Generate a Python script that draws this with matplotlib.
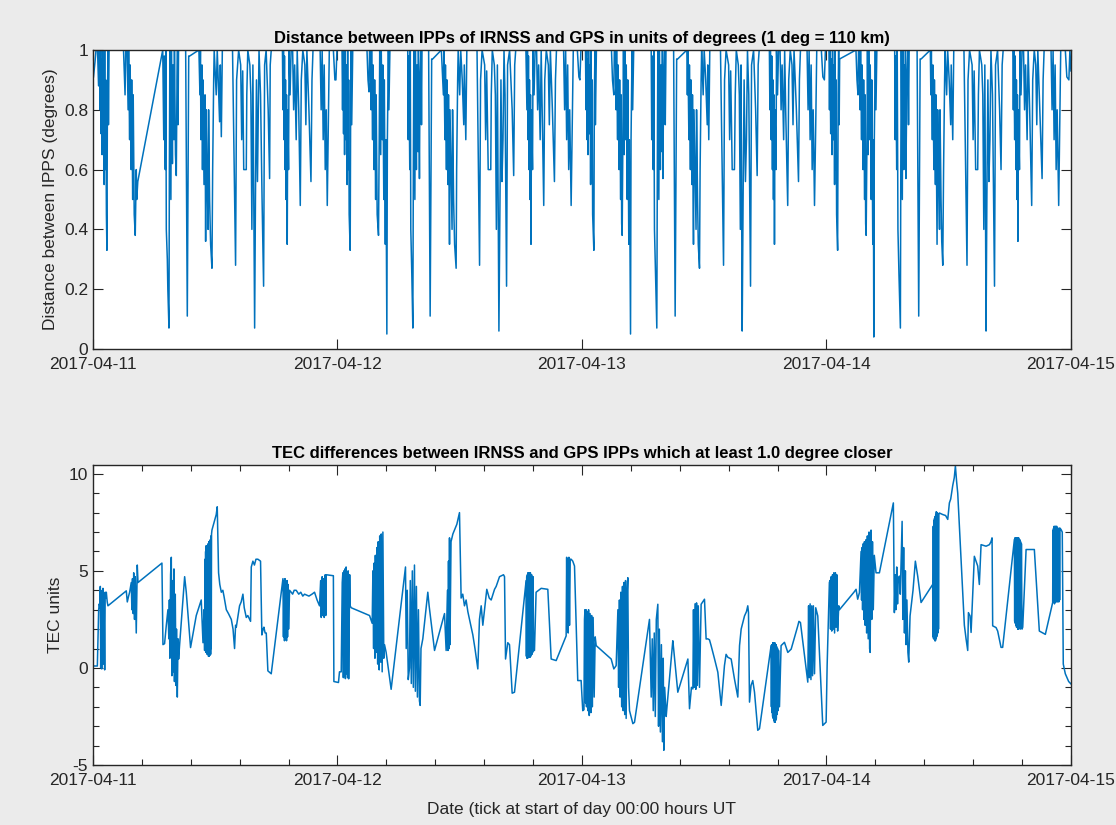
import numpy as np
import matplotlib
matplotlib.use('Agg')
import matplotlib.pyplot as plt
import matplotlib.dates as mdates
from matplotlib.ticker import MultipleLocator, FuncFormatter

plt.rcParams['font.family'] = ['Liberation Sans', 'DejaVu Sans']

# (hours after 2017-04-11 00:00 UT, distance between IPPs in degrees)
dist_day1 = [
    (0.05, 0.91), (0.2, 0.96), (0.3, 1.0), (0.45, 1.0), (0.55, 0.88), (0.62, 1.0),
    (0.7, 0.8), (0.75, 1.0), (0.8, 0.72), (0.85, 0.97), (0.9, 0.65), (0.95, 1.0), (1.0, 0.7),
    (1.05, 0.95), (1.1, 0.55), (1.15, 1.0), (1.2, 0.6), (1.25, 0.9), (1.32, 0.45), (1.37, 0.33),
    (1.42, 0.85), (1.48, 1.0), (1.52, 0.75), (1.58, 1.0),
    (3.0, 1.0), (3.1, 0.9), (3.15, 0.85), (3.22, 1.0), (3.35, 1.0),
    (3.45, 0.8), (3.5, 1.0), (3.6, 0.7), (3.65, 0.95), (3.75, 0.6), (3.8, 0.9), (3.9, 0.5),
    (3.95, 0.85), (4.05, 0.45), (4.15, 0.38), (4.25, 0.6), (4.3, 0.5), (4.4, 0.56),
    (6.85, 1.0),
    (6.95, 0.7), (7.0, 0.98), (7.1, 0.6), (7.15, 1.0), (7.2, 0.4), (7.3, 0.3), (7.35, 0.2),
    (7.46, 0.07), (7.5, 0.6), (7.55, 1.0), (7.65, 0.5), (7.7, 1.0), (7.8, 0.62), (7.85, 0.95),
    (7.95, 0.7), (8.0, 1.0), (8.1, 0.65), (8.18, 0.58), (8.25, 0.9), (8.3, 1.0), (8.35, 0.75),
    (8.4, 1.0),
    (9.1, 1.0), (9.26, 0.11), (9.4, 0.98), (9.5, 0.98), (10.4, 1.0),
    (10.5, 0.85), (10.55, 1.0), (10.6, 0.7), (10.7, 0.95), (10.75, 0.6), (10.8, 0.9), (10.9, 0.55),
    (11.0, 0.85), (11.06, 0.36), (11.12, 0.8), (11.2, 0.6), (11.3, 0.4), (11.35, 0.8), (11.45, 0.5),
    (11.55, 0.35), (11.68, 0.27), (11.75, 0.6), (11.85, 0.9), (11.9, 1.0),
    (12.1, 0.85), (12.2, 1.0), (12.3, 0.9), (12.43, 0.76), (12.5, 0.95), (12.6, 0.71), (12.7, 1.0),
    (13.7, 1.0), (14.0, 0.28), (14.1, 0.9), (14.3, 1.0), (14.5, 0.95), (14.6, 0.7), (14.7, 0.93),
    (14.8, 0.6), (15.05, 0.6), (15.1, 0.85), (15.2, 1.0), (15.4, 0.95), (15.5, 0.85), (15.6, 0.4),
    (15.7, 0.95), (15.87, 0.07), (15.95, 0.5), (16.05, 0.9), (16.15, 0.56), (16.2, 0.7), (16.3, 1.0),
    (16.45, 0.85), (16.6, 0.5), (16.75, 0.21), (16.85, 0.95), (17.0, 1.0), (17.2, 0.8), (17.34, 0.57),
    (17.4, 0.95), (17.5, 1.0), (18.6, 1.0),
    (18.65, 0.8), (18.7, 1.0), (18.75, 0.7), (18.8, 0.98), (18.85, 0.6), (18.9, 0.9), (18.95, 0.5),
    (19.0, 0.85), (19.07, 0.35), (19.12, 0.8), (19.2, 0.6), (19.25, 1.0), (19.35, 0.85), (19.45, 1.0),
    (19.6, 1.0), (19.7, 0.8), (19.8, 0.95), (19.95, 0.7), (20.05, 1.0), (20.2, 0.8), (20.35, 0.48),
    (20.45, 0.9), (20.6, 1.0), (20.8, 0.95), (20.9, 0.75), (21.0, 1.0), (21.2, 0.8), (21.4, 0.56),
    (21.5, 0.9), (21.6, 1.0), (22.3, 1.0), (22.4, 0.8), (22.5, 1.0), (22.6, 0.7), (22.7, 0.95),
    (22.8, 0.6), (22.9, 0.8), (23.0, 0.48), (23.1, 0.75), (23.2, 1.0), (23.6, 1.0), (23.75, 0.9),
    (23.85, 0.9), (23.95, 1.0),
]

dist_day2 = [
    (24.1, 1.0), (24.45, 1.0),
    (24.5, 0.8), (24.55, 1.0), (24.6, 0.72), (24.65, 0.97), (24.7, 0.65), (24.75, 1.0), (24.85, 0.7),
    (24.9, 0.95), (24.95, 0.55), (25.0, 1.0), (25.05, 0.6), (25.1, 0.9), (25.15, 0.45), (25.25, 0.33),
    (25.3, 0.85), (25.35, 1.0), (25.4, 0.75), (25.5, 1.0),
    (26.9, 1.0), (27.0, 0.9), (27.1, 0.86), (27.15, 1.0), (27.25, 1.0),
    (27.3, 0.8), (27.35, 1.0), (27.45, 0.7), (27.5, 0.95), (27.6, 0.6), (27.65, 0.9), (27.75, 0.5),
    (27.8, 0.85), (27.9, 0.45), (28.03, 0.38), (28.1, 0.7), (28.15, 1.0), (28.25, 0.65), (28.3, 1.0),
    (28.4, 0.7), (28.45, 0.95), (28.55, 0.5), (28.6, 0.9), (28.7, 0.35), (28.75, 0.7), (28.85, 0.05),
    (28.9, 0.7), (29.0, 1.0), (29.05, 0.8), (29.15, 1.0),
    (30.9, 1.0),
    (30.95, 0.7), (31.0, 0.98), (31.1, 0.6), (31.15, 1.0), (31.2, 0.4), (31.3, 0.25), (31.4, 0.07),
    (31.45, 0.6), (31.5, 1.0), (31.6, 0.5), (31.65, 1.0), (31.75, 0.6), (31.8, 0.95), (31.9, 0.66),
    (31.95, 1.0), (32.05, 0.57), (32.1, 0.9), (32.2, 1.0), (32.25, 0.75), (32.3, 1.0),
    (32.95, 1.0), (33.1, 0.11), (33.25, 0.97), (33.35, 0.97), (34.2, 1.0),
    (34.4, 0.85), (34.45, 1.0), (34.55, 0.7), (34.6, 0.95), (34.7, 0.6), (34.75, 0.9), (34.85, 0.55),
    (34.9, 0.85), (35.0, 0.35), (35.05, 0.8), (35.15, 0.6), (35.25, 0.4), (35.3, 0.8), (35.4, 0.5),
    (35.5, 0.35), (35.65, 0.27), (35.7, 0.6), (35.8, 0.9), (35.85, 1.0),
    (36.0, 0.85), (36.1, 1.0), (36.25, 0.9), (36.4, 0.75), (36.45, 0.95), (36.6, 0.7), (36.7, 1.0),
    (37.7, 1.0), (37.95, 0.28), (38.05, 0.9), (38.2, 1.0), (38.45, 0.95), (38.55, 0.7), (38.65, 0.93),
    (38.8, 0.6), (39.05, 0.6), (39.1, 0.85), (39.2, 1.0), (39.4, 0.95), (39.5, 0.85), (39.6, 0.4),
    (39.7, 0.95), (39.85, 0.06), (39.95, 0.5), (40.05, 0.9), (40.15, 0.56), (40.25, 0.7), (40.35, 1.0),
    (40.45, 0.85), (40.6, 0.21), (40.7, 0.95), (40.9, 1.0), (41.15, 0.8), (41.3, 0.58), (41.4, 0.95),
    (41.5, 1.0), (42.5, 1.0),
    (42.6, 0.8), (42.65, 1.0), (42.7, 0.7), (42.75, 0.98), (42.8, 0.6), (42.85, 0.9), (42.9, 0.5),
    (42.95, 0.85), (43.0, 0.35), (43.05, 0.8), (43.15, 0.6), (43.2, 1.0), (43.3, 0.85), (43.4, 1.0),
    (43.55, 1.0), (43.65, 0.8), (43.75, 0.95), (43.9, 0.7), (44.0, 1.0), (44.1, 0.8), (44.25, 0.48),
    (44.35, 0.9), (44.5, 1.0), (44.7, 0.95), (44.8, 0.75), (44.9, 1.0), (45.1, 0.8), (45.3, 0.56),
    (45.4, 0.9), (45.5, 1.0), (46.2, 1.0), (46.3, 0.8), (46.4, 1.0), (46.5, 0.7), (46.6, 0.95),
    (46.7, 0.6), (46.8, 0.8), (46.94, 0.48), (47.05, 0.75), (47.15, 1.0), (47.55, 1.0), (47.7, 0.91),
    (47.8, 0.9), (47.9, 1.0),
]

dist_day3 = [
    (48.0, 1.0), (48.35, 1.0),
    (48.4, 0.8), (48.45, 1.0), (48.5, 0.7), (48.55, 0.97), (48.6, 0.65), (48.65, 1.0), (48.75, 0.72),
    (48.8, 0.95), (48.85, 0.55), (48.9, 1.0), (48.95, 0.6), (49.0, 0.9), (49.05, 0.45), (49.17, 0.33),
    (49.22, 0.85), (49.28, 1.0), (49.32, 0.75), (49.42, 1.0),
    (50.9, 1.0), (51.0, 0.9), (51.13, 0.85), (51.18, 1.0), (51.3, 1.0),
    (51.35, 0.8), (51.4, 1.0), (51.5, 0.7), (51.55, 0.95), (51.65, 0.6), (51.7, 0.9), (51.8, 0.5),
    (51.85, 0.85), (51.9, 0.42), (51.95, 0.38), (52.02, 0.7), (52.08, 1.0), (52.15, 0.65), (52.2, 1.0),
    (52.3, 0.7), (52.35, 0.95), (52.45, 0.5), (52.5, 0.9), (52.6, 0.35), (52.65, 0.7), (52.77, 0.05),
    (52.82, 0.7), (52.92, 1.0), (52.98, 0.8), (53.08, 1.0),
    (54.8, 1.0),
    (54.85, 0.7), (54.9, 0.98), (55.0, 0.6), (55.05, 1.0), (55.12, 0.4), (55.22, 0.25), (55.35, 0.07),
    (55.4, 0.6), (55.45, 1.0), (55.55, 0.5), (55.6, 1.0), (55.7, 0.6), (55.75, 0.95), (55.85, 0.66),
    (55.9, 1.0), (55.95, 0.57), (56.02, 0.9), (56.12, 1.0), (56.18, 0.75), (56.25, 1.0),
    (57.0, 1.0), (57.15, 0.11), (57.3, 0.97), (57.4, 0.97), (58.3, 1.0),
    (58.35, 0.85), (58.4, 1.0), (58.5, 0.7), (58.55, 0.95), (58.65, 0.6), (58.7, 0.9), (58.8, 0.55),
    (58.85, 0.85), (58.95, 0.35), (59.0, 0.8), (59.1, 0.6), (59.2, 0.4), (59.25, 0.8), (59.35, 0.5),
    (59.42, 0.35), (59.54, 0.27), (59.6, 0.6), (59.7, 0.9), (59.75, 1.0),
    (59.9, 0.85), (60.0, 1.0), (60.15, 0.9), (60.3, 0.75), (60.35, 0.95), (60.45, 0.7), (60.55, 1.0),
    (61.6, 1.0), (61.9, 0.28), (62.0, 0.9), (62.15, 1.0), (62.4, 0.95), (62.5, 0.7), (62.6, 0.93),
    (62.75, 0.6), (62.97, 0.6), (63.05, 0.85), (63.15, 1.0), (63.35, 0.95), (63.45, 0.85), (63.55, 0.4),
    (63.62, 0.95), (63.73, 0.06), (63.82, 0.5), (63.92, 0.9), (64.05, 0.56), (64.15, 0.7), (64.25, 1.0),
    (64.38, 0.85), (64.55, 0.21), (64.65, 0.95), (64.85, 1.0), (65.05, 0.8), (65.2, 0.58), (65.3, 0.95),
    (65.4, 1.0), (66.4, 1.0),
    (66.45, 0.8), (66.5, 1.0), (66.58, 0.7), (66.63, 0.98), (66.7, 0.6), (66.75, 0.9), (66.8, 0.5),
    (66.85, 0.85), (66.9, 0.35), (66.95, 0.8), (67.05, 0.6), (67.1, 1.0), (67.2, 0.85), (67.3, 1.0),
    (67.45, 1.0), (67.55, 0.8), (67.65, 0.95), (67.8, 0.7), (67.9, 1.0), (68.0, 0.8), (68.2, 0.48),
    (68.3, 0.9), (68.45, 1.0), (68.62, 0.95), (68.72, 0.75), (68.82, 1.0), (69.05, 0.8), (69.26, 0.56),
    (69.35, 0.9), (69.45, 1.0), (70.1, 1.0), (70.2, 0.8), (70.3, 1.0), (70.4, 0.7), (70.5, 0.95),
    (70.6, 0.6), (70.7, 0.8), (70.83, 0.48), (70.95, 0.75), (71.05, 1.0), (71.5, 1.0), (71.65, 0.91),
    (71.8, 0.9), (71.9, 1.0),
]

dist_day4 = [
    (72.0, 1.0), (72.25, 1.0),
    (72.3, 0.8), (72.35, 1.0), (72.42, 0.72), (72.48, 0.97), (72.55, 0.65), (72.6, 1.0), (72.68, 0.7),
    (72.73, 0.95), (72.8, 0.55), (72.85, 1.0), (72.9, 0.6), (72.95, 0.9), (73.0, 0.45), (73.1, 0.33),
    (73.15, 0.85), (73.2, 1.0), (73.25, 0.75), (73.3, 0.97),
    (74.9, 1.0), (75.0, 0.9), (75.1, 0.85), (75.15, 1.0), (75.25, 1.0),
    (75.3, 0.8), (75.35, 1.0), (75.45, 0.7), (75.5, 0.95), (75.6, 0.6), (75.65, 0.9), (75.75, 0.5),
    (75.8, 0.85), (75.85, 0.42), (75.9, 0.38), (75.98, 0.7), (76.03, 1.0), (76.1, 0.65), (76.15, 1.0),
    (76.25, 0.7), (76.3, 0.95), (76.4, 0.5), (76.45, 0.9), (76.55, 0.35), (76.6, 0.7), (76.65, 0.04),
    (76.7, 0.7), (76.8, 1.0), (76.86, 0.8), (76.95, 1.0),
    (78.7, 1.0),
    (78.75, 0.7), (78.8, 0.98), (78.9, 0.6), (78.95, 1.0), (79.02, 0.4), (79.12, 0.25), (79.26, 0.07),
    (79.3, 0.6), (79.35, 1.0), (79.45, 0.5), (79.5, 1.0), (79.6, 0.6), (79.65, 0.95), (79.72, 0.66),
    (79.76, 1.0), (79.8, 0.57), (79.9, 0.9), (80.0, 1.0), (80.06, 0.75), (80.12, 1.0),
    (80.9, 1.0), (81.06, 0.11), (81.2, 0.97), (81.3, 0.97), (82.2, 1.0),
    (82.25, 0.85), (82.3, 1.0), (82.4, 0.7), (82.45, 0.95), (82.55, 0.6), (82.6, 0.9), (82.7, 0.55),
    (82.75, 0.85), (82.86, 0.35), (82.92, 0.8), (83.0, 0.6), (83.1, 0.4), (83.15, 0.8), (83.25, 0.5),
    (83.32, 0.36), (83.42, 0.28), (83.5, 0.6), (83.6, 0.9), (83.65, 1.0),
    (83.8, 0.85), (83.9, 1.0), (84.05, 0.9), (84.2, 0.75), (84.25, 0.95), (84.4, 0.7), (84.5, 1.0),
    (85.5, 1.0), (85.8, 0.28), (85.9, 0.9), (86.05, 1.0), (86.3, 0.95), (86.4, 0.7), (86.5, 0.93),
    (86.65, 0.6), (86.85, 0.6), (86.92, 0.85), (87.02, 1.0), (87.25, 0.95), (87.35, 0.85), (87.45, 0.4),
    (87.55, 0.95), (87.67, 0.06), (87.75, 0.5), (87.85, 0.9), (87.95, 0.56), (88.05, 0.7), (88.15, 1.0),
    (88.3, 0.85), (88.5, 0.21), (88.6, 0.95), (88.8, 1.0), (89.0, 0.8), (89.14, 0.6), (89.25, 0.95),
    (89.35, 1.0), (90.3, 1.0),
    (90.35, 0.8), (90.4, 1.0), (90.48, 0.7), (90.53, 0.98), (90.6, 0.6), (90.65, 0.9), (90.7, 0.5),
    (90.75, 0.85), (90.8, 0.36), (90.85, 0.8), (90.95, 0.6), (91.0, 1.0), (91.1, 0.85), (91.2, 1.0),
    (91.35, 1.0), (91.45, 0.8), (91.55, 0.95), (91.7, 0.7), (91.8, 1.0), (91.95, 0.8), (92.15, 0.48),
    (92.25, 0.9), (92.4, 1.0), (92.55, 0.95), (92.65, 0.75), (92.75, 1.0), (92.95, 0.8), (93.17, 0.57),
    (93.27, 0.9), (93.37, 1.0), (94.05, 1.0), (94.15, 0.8), (94.25, 1.0), (94.35, 0.7), (94.45, 0.95),
    (94.55, 0.6), (94.65, 0.8), (94.8, 0.48), (94.9, 0.75), (95.0, 1.0), (95.45, 1.0), (95.6, 0.91),
    (95.8, 0.9), (95.9, 1.0), (96.0, 0.93),
]

# (hours after 2017-04-11 00:00 UT, TEC difference in TEC units)
tec_day1 = [
    (0.1, 0.1), (0.43, 0.1), (0.56, 3.0), (0.62, 3.3), (0.68, 3.1), (0.72, 4.2), (0.76, 0.0), (0.8, 3.5),
    (0.86, -0.05), (0.9, 4.0), (0.95, 3.2), (0.98, 4.1), (1.03, 0.2), (1.08, 3.8), (1.15, -0.1), (1.2, 3.9),
    (1.25, 3.6), (1.31, 3.9), (1.4, 3.4), (1.47, 3.2), (3.27, 3.97), (3.37, 3.4), (3.5, 3.7), (3.6, 3.9),
    (3.76, 4.4), (3.82, 3.0), (3.88, 4.6), (3.95, 2.8), (4.0, 4.9), (4.08, 2.5), (4.15, 4.7), (4.25, 1.8),
    (4.35, 5.3), (4.42, 4.4), (6.77, 5.4), (6.87, 1.2), (7.03, 1.25), (7.2, 2.2), (7.36, 3.0), (7.45, 1.5),
    (7.5, 3.5), (7.55, 0.5), (7.62, 4.8), (7.69, 5.7), (7.75, -0.4), (7.82, 4.5), (7.88, -0.2), (7.95, 5.1),
    (8.0, -0.7), (8.08, 3.8), (8.15, -0.9), (8.2, 2.0), (8.28, -1.5), (8.35, 1.5), (8.41, 0.46), (8.5, 1.15),
    (9.0, 4.7), (9.16, 3.9), (9.58, 1.05), (10.14, 2.7), (10.63, 3.5), (10.8, 1.3), (10.9, 3.0),
    (10.96, 0.9), (11.0, 5.6), (11.03, 0.9), (11.06, 6.0), (11.09, 0.8), (11.12, 6.3), (11.15, 0.8),
    (11.18, 6.2), (11.21, 0.7), (11.25, 6.3), (11.28, 0.7), (11.31, 6.4), (11.34, 0.6), (11.38, 6.5),
    (11.41, 0.6), (11.44, 6.5), (11.48, 0.65), (11.51, 6.6), (11.55, 0.7), (11.58, 6.8), (11.61, 1.0),
    (11.64, 6.9), (11.68, 7.1), (12.1, 7.9), (12.2, 8.3), (12.33, 4.9),
    (12.45, 4.3), (12.6, 3.9), (12.75, 4.0), (12.86, 3.7), (13.09, 3.0), (13.3, 2.8), (13.58, 2.5),
    (13.75, 2.0), (13.9, 1.0), (14.0, 2.2), (14.07, 2.1), (14.25, 2.7), (14.39, 3.2), (14.55, 3.4),
    (14.72, 3.8), (14.85, 3.1), (15.05, 2.6), (15.2, 2.7), (15.47, 2.4), (15.54, 5.2), (15.7, 5.5),
    (15.85, 5.3), (16.0, 5.6), (16.19, 5.6), (16.45, 5.5), (16.58, 1.7), (16.7, 2.0), (16.78, 2.1),
    (16.9, 1.8), (17.01, 1.8), (17.17, -0.15), (17.5, -0.3), (18.65, 4.6), (18.7, 1.6), (18.75, 4.5),
    (18.8, 1.4), (18.85, 4.6), (18.9, 1.5), (18.95, 4.4), (19.0, 1.4), (19.05, 4.5), (19.1, 1.6),
    (19.15, 4.3), (19.2, 2.0), (19.3, 4.0), (19.46, 3.9), (19.6, 3.8), (19.75, 4.0), (19.95, 4.0),
    (20.2, 3.8), (20.4, 3.9), (20.6, 3.7), (20.77, 3.8), (21.2, 3.7), (21.5, 3.8), (21.75, 3.9),
    (22.0, 3.5), (22.24, 3.2), (22.35, 4.5), (22.41, 2.6), (22.5, 4.7), (22.55, 2.7), (22.65, 4.6),
    (22.7, 2.6), (22.8, 4.8), (22.85, 2.7), (22.9, 4.8), (23.6, 4.75), (23.65, -0.7), (24.1, -0.75),
]

tec_day2 = [
    (24.2, -0.2), (24.37, -0.2), (24.47, 4.4), (24.53, 4.9), (24.58, -0.5), (24.63, 5.0), (24.68, -0.4),
    (24.73, 5.1), (24.78, -0.55), (24.85, 5.2), (24.9, -0.3), (24.95, 4.9), (25.0, -0.5), (25.05, 5.0),
    (25.1, -0.56), (25.2, 4.8), (25.25, 3.2), (25.35, 3.1), (27.15, 2.7), (27.41, 2.3), (27.48, 5.0),
    (27.55, 1.0), (27.6, 5.4), (27.68, 0.5), (27.72, 5.8), (27.8, 0.8), (27.88, 6.2), (27.95, 0.2),
    (28.0, 6.5), (28.1, -0.1), (28.15, 6.8), (28.25, 0.3), (28.3, 6.9), (28.39, -0.2), (28.46, 7.0),
    (28.55, 0.5), (28.62, 1.2), (28.78, 0.8), (29.27, -1.1), (30.68, 5.2), (30.75, 1.0), (30.85, 4.0),
    (30.95, -0.6), (31.07, 0.0), (31.15, 4.5), (31.25, -0.8), (31.35, 5.0), (31.45, -1.0), (31.56, 5.3),
    (31.65, -1.2), (31.75, 4.2), (31.85, -1.5), (31.95, 3.0), (32.05, -1.7), (32.12, -1.93), (32.2, 1.0),
    (32.38, 1.5), (32.87, 3.9), (33.0, 3.2), (33.53, 0.9), (34.51, 2.8), (34.67, 0.9), (34.8, 4.0),
    (34.85, 0.9), (34.9, 5.5), (34.95, 1.0), (35.0, 6.7), (35.05, 1.2), (35.15, 6.5), (35.33, 6.9),
    (35.72, 7.4), (35.98, 8.0), (36.14, 3.6), (36.3, 3.8), (36.47, 3.2), (36.63, 3.5), (36.8, 2.9),
    (37.29, 1.7), (37.5, 1.0), (37.78, -0.05), (37.94, 2.5), (38.11, 3.2), (38.27, 2.2), (38.66, 4.05),
    (38.9, 3.6), (39.09, 3.5), (39.42, 4.05), (39.58, 4.2), (39.91, 4.7), (40.3, 4.8), (40.4, 4.7),
    (40.5, 0.46), (40.72, 1.3), (40.89, 1.2), (41.15, -1.3), (41.38, -1.25),
    (42.52, 4.5), (42.55, 0.6), (42.58, 4.7), (42.61, 0.5), (42.64, 4.8), (42.67, 0.5), (42.7, 4.9),
    (42.73, 0.6), (42.76, 4.9), (42.79, 0.55), (42.82, 4.8), (42.85, 0.6), (42.88, 4.9), (42.91, 0.55),
    (42.94, 4.9), (42.97, 0.6), (43.0, 4.8), (43.03, 0.7), (43.06, 4.8), (43.09, 0.7), (43.12, 4.7),
    (43.16, 0.8), (43.2, 4.7), (43.25, 0.9), (43.34, 0.9),
    (43.5, 3.9), (44.0, 4.1), (44.65, 4.05), (44.98, 0.46),
    (45.47, 0.38), (46.45, 1.65), (46.5, 5.7), (46.55, 2.0), (46.6, 5.6), (46.65, 1.8), (46.72, 5.7),
    (46.78, 2.2), (46.85, 5.6), (46.94, 5.6), (47.1, 5.5), (47.27, 5.25), (47.59, -0.65), (47.92, -0.65),
]

tec_day3 = [
    (48.08, -2.2), (48.2, -2.15), (48.25, 2.5), (48.3, 3.0), (48.35, -1.8), (48.4, 3.0), (48.45, -2.0),
    (48.52, 2.9), (48.58, -2.2), (48.65, 3.0), (48.72, -2.45), (48.8, 2.8), (48.88, -2.3), (48.95, 2.7),
    (49.02, -2.0), (49.1, 2.6), (49.2, -1.5), (49.3, 1.6), (49.4, 1.15), (50.87, 0.46), (50.95, 0.3),
    (51.13, -0.05), (51.36, 0.12), (51.53, 3.0), (51.6, -1.0), (51.68, 3.5), (51.75, -1.5), (51.82, 3.9),
    (51.9, -2.0), (51.98, 4.2), (52.05, -2.2), (52.12, 4.4), (52.2, -2.4), (52.28, 4.5), (52.34, -2.6),
    (52.45, 4.0), (52.5, 4.65), (52.58, -1.0), (52.67, -2.2), (53.0, -2.87), (53.16, -2.8), (54.63, 2.5),
    (54.8, -1.5), (54.9, 1.5), (55.0, -2.2), (55.1, 1.8), (55.2, -2.5), (55.3, 2.5), (55.45, 3.28),
    (55.52, -3.0), (55.6, 2.0), (55.7, -3.3), (55.8, 1.2), (55.9, -3.8), (55.98, 0.5), (56.04, -4.24),
    (56.12, -1.0), (56.27, -2.5), (56.35, -2.0), (56.92, 1.4), (57.0, 1.0), (57.41, -1.25), (58.4, 0.46),
    (58.56, -2.1), (58.75, -1.0), (58.89, -1.08), (58.95, 3.0), (59.02, -1.0), (59.1, 3.3), (59.18, -1.1),
    (59.25, 3.35), (59.33, -0.9), (59.42, 3.2), (59.54, -1.0), (59.7, 3.28), (60.03, 3.54), (60.19, 1.49),
    (60.35, 1.5), (60.52, 1.45), (60.68, 1.15), (61.0, 0.5), (61.34, -0.22), (61.67, -1.93), (61.99, 0.12),
    (62.15, 0.7), (62.32, 0.55), (62.65, 0.46), (62.97, -0.56), (63.3, -1.5), (63.47, 1.15), (63.63, 2.0),
    (63.96, 2.68), (64.15, 2.9), (64.28, 3.2), (64.35, 2.85), (64.45, -1.76), (64.6, -0.9), (64.77, -0.65),
    (64.94, -1.25), (65.26, -3.21), (65.43, -3.13),
    (66.57, 1.15), (66.6, -2.0), (66.63, 1.2), (66.66, -2.3), (66.69, 1.2), (66.72, -2.5), (66.75, 1.3),
    (66.78, -2.6), (66.81, 1.3), (66.84, -2.7), (66.87, 1.3), (66.9, -2.8), (66.93, 1.3), (66.96, -2.8),
    (66.99, 1.2), (67.02, -2.7), (67.05, 1.2), (67.08, -2.6), (67.11, 1.1), (67.15, -2.4), (67.2, 1.0),
    (67.25, -2.2), (67.3, 0.9), (67.39, -2.0),
    (67.55, 1.15), (67.88, 1.32), (68.21, 0.8), (68.54, 0.97), (69.19, 2.17), (69.3, 2.4),
    (69.45, 2.34), (70.17, -0.73), (70.25, 3.2), (70.32, -0.5), (70.4, 3.3), (70.48, -0.6), (70.56, 3.2),
    (70.64, -0.4), (70.72, 3.2), (70.83, -0.3), (70.95, 3.1), (71.15, 2.68), (71.64, -2.96), (71.97, -2.79),
]

tec_day4 = [
    (72.07, 0.12), (72.29, 4.4), (72.35, 4.5), (72.4, 2.0), (72.47, 4.7), (72.52, 1.9), (72.6, 4.8),
    (72.66, 2.0), (72.73, 4.9), (72.8, 1.8), (72.88, 4.9), (72.95, 2.1), (73.02, 4.8), (73.1, 1.9),
    (73.21, 3.2), (73.28, 3.0), (74.7, 3.9), (74.91, 4.05), (75.07, 3.54), (75.24, 3.88), (75.4, 6.0),
    (75.45, 3.5), (75.5, 6.2), (75.55, 3.0), (75.62, 6.4), (75.68, 2.5), (75.73, 6.5), (75.8, 2.2),
    (75.88, 6.6), (75.95, 1.8), (76.02, 6.8), (76.1, 1.5), (76.18, 7.0), (76.24, 1.0), (76.29, 0.8),
    (76.38, 7.1), (76.45, 2.5), (76.52, 6.5), (76.6, 3.0), (76.7, 5.8), (76.87, 4.9), (77.2, 4.9),
    (78.57, 8.5), (78.67, 2.85), (78.75, 4.8), (78.82, 3.0), (78.9, 5.2), (78.98, 3.3), (79.05, 4.5),
    (79.16, 4.73), (79.25, 3.8), (79.35, 6.0), (79.43, 7.55), (79.5, 2.5), (79.58, 6.2), (79.66, 1.8),
    (79.75, 5.0), (79.82, 1.2), (79.9, 3.5), (80.0, 0.8), (80.08, 0.3), (80.21, 2.68), (80.5, 4.0),
    (80.73, 5.5), (80.96, 4.73), (81.29, 3.37),
    (82.43, 4.3), (82.46, 1.6), (82.49, 7.3), (82.52, 1.5), (82.55, 7.6), (82.58, 1.5), (82.61, 7.7),
    (82.64, 1.4), (82.67, 7.8), (82.7, 1.4), (82.73, 7.9), (82.76, 1.5), (82.79, 8.05), (82.82, 1.6),
    (82.85, 8.0), (82.88, 1.7), (82.91, 7.9), (82.94, 1.8), (82.97, 7.95), (83.0, 2.0), (83.04, 7.9),
    (83.09, 7.98),
    (83.42, 7.9), (83.7, 7.85), (83.91, 7.65), (84.07, 8.5), (84.2, 8.7), (84.4, 9.4), (84.55, 9.8),
    (84.66, 10.4), (84.78, 9.6), (84.89, 9.0), (85.54, 2.2), (85.71, 1.49), (85.87, 0.9), (85.94, 2.85),
    (86.1, 2.68), (86.2, 1.83), (86.52, 5.75), (86.85, 5.25), (87.01, 4.3), (87.18, 6.35), (87.67, 6.27),
    (88.0, 6.35), (88.15, 6.5), (88.26, 6.7), (88.32, 2.17), (88.65, 2.08), (88.81, 1.9), (89.14, 1.06),
    (89.3, 1.06),
    (90.45, 6.62), (90.48, 2.4), (90.51, 6.7), (90.54, 2.3), (90.57, 6.7), (90.6, 2.2), (90.63, 6.7),
    (90.66, 2.1), (90.69, 6.7), (90.72, 2.1), (90.75, 6.6), (90.78, 2.0), (90.81, 6.7), (90.84, 2.0),
    (90.87, 6.7), (90.9, 2.1), (90.93, 6.6), (90.96, 2.2), (90.99, 6.6), (91.02, 2.0), (91.06, 6.5),
    (91.1, 2.1), (91.14, 6.4), (91.2, 2.0), (91.27, 2.1),
    (91.6, 6.1), (92.41, 6.1), (92.9, 1.9), (93.49, 1.73),
    (94.21, 3.37), (94.24, 7.1), (94.27, 3.4), (94.3, 7.2), (94.33, 3.4), (94.36, 7.3), (94.39, 3.3),
    (94.42, 7.2), (94.45, 3.4), (94.48, 7.3), (94.51, 3.5), (94.54, 7.2), (94.57, 3.4), (94.6, 7.3),
    (94.63, 3.5), (94.66, 7.2), (94.69, 3.4), (94.72, 7.2), (94.75, 3.5), (94.78, 7.1), (94.81, 3.4),
    (94.85, 7.2), (94.89, 3.5), (94.93, 7.2),
    (95.03, 7.13), (95.15, 7.0), (95.25, 0.2), (95.45, -0.3), (95.78, -0.7), (96.0, -0.82),
]

t_start = np.datetime64('2017-04-11T00:00')
day_ticks = ['2017-04-11', '2017-04-12', '2017-04-13', '2017-04-14', '2017-04-15']


def to_series(*days):
    pts = [p for d in days for p in d]
    hrs = np.array([p[0] for p in pts])
    vals = np.array([p[1] for p in pts])
    times = t_start + (hrs * 3600).astype('timedelta64[s]')
    return times, vals


line_col = '#0072BD'
ax_col = '#262626'

fig = plt.figure(figsize=(11.16, 8.25), dpi=100)
fig.patch.set_facecolor('#ebebeb')

ax1 = fig.add_axes([0.0833, 0.5770, 0.8763, 0.3624])
ax2 = fig.add_axes([0.0833, 0.0727, 0.8763, 0.3636])

t1, d1 = to_series(dist_day1, dist_day2, dist_day3, dist_day4)
t2, d2 = to_series(tec_day1, tec_day2, tec_day3, tec_day4)

ax1.plot(t1, d1, color=line_col, lw=1.1)
ax2.plot(t2, d2, color=line_col, lw=1.1)

xmin = np.datetime64(day_ticks[0])
xmax = np.datetime64(day_ticks[-1])
for ax in (ax1, ax2):
    ax.set_xlim(xmin, xmax)
    ax.xaxis.set_major_locator(mdates.DayLocator())
    ax.xaxis.set_major_formatter(mdates.DateFormatter('%Y-%m-%d'))
    ax.tick_params(which='both', direction='in', top=True, right=True,
                   colors=ax_col, labelsize=12.5, width=0.8)
    ax.tick_params(which='major', length=7)
    ax.tick_params(which='minor', length=4)
    ax.tick_params(axis='x', pad=6)
    for s in ax.spines.values():
        s.set_color(ax_col)
        s.set_linewidth(1.0)
    ax.yaxis.set_major_formatter(FuncFormatter(lambda v, p: '%g' % v))

ax1.set_ylim(0, 1)
ax1.yaxis.set_major_locator(MultipleLocator(0.2))
ax1.set_ylabel('Distance between IPPS (degrees)', fontsize=12.5, color=ax_col)
ax1.set_title('Distance between IPPs of IRNSS and GPS in units of degrees (1 deg = 110 km)',
              fontsize=12, fontweight='bold', pad=5)

ax2.set_ylim(-5, 10.45)
ax2.yaxis.set_major_locator(MultipleLocator(5))
ax2.yaxis.set_minor_locator(MultipleLocator(1))
ax2.xaxis.set_minor_locator(MultipleLocator(0.2))
ax2.set_ylabel('TEC units', fontsize=12.5, color=ax_col)
ax2.set_xlabel('Date (tick at start of day 00:00 hours UT', fontsize=12.5, color=ax_col, labelpad=10)
ax2.set_title('TEC differences between IRNSS and GPS IPPs which at least 1.0 degree closer',
              fontsize=12, fontweight='bold', pad=5)

fig.savefig('out.png', dpi=100, facecolor=fig.get_facecolor())
